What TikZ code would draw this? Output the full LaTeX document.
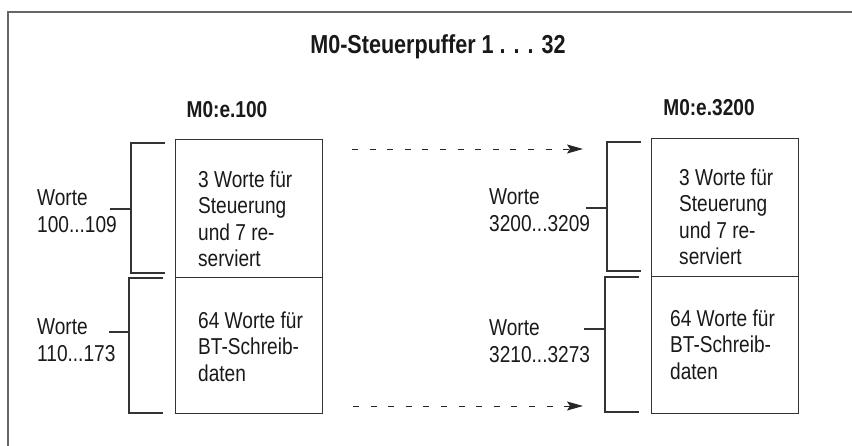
\documentclass[tikz,border=0pt]{standalone}
\usepackage{fontspec}
\setmainfont[FakeStretch=0.83]{Liberation Sans}
\usetikzlibrary{arrows.meta}
\begin{document}
\begin{tikzpicture}[x=1pt,y=-1pt,
  line/.style={draw=black!80, line width=1.2pt},
  frame/.style={draw=black!60, line width=2pt},
  txt/.style={inner sep=0pt, anchor=base west, align=left, text=black!90,
    font=\fontsize{23}{26.5}\selectfont},
  head/.style={inner sep=0pt, anchor=base, text=black!90,
    font=\fontsize{23}{27}\selectfont\bfseries},
  ttl/.style={inner sep=0pt, anchor=base, text=black!90,
    font=\fontsize{26}{30}\selectfont\bfseries},
  memcell/.style={draw=black!80, line width=1.2pt, rectangle, inner sep=0pt, anchor=north west},
  flow/.style={draw=black!85, line width=1pt, dash pattern=on 6pt off 11.6pt,
    -{Stealth[length=16pt,width=9pt,inset=3pt]}}]
\useasboundingbox (0,0) rectangle (852,445);
% frame
\draw[frame] (8,450) -- (8,12) -- (860,12);
% titles
\node[ttl] (title) at (438,53) {M0-Steuerpuffer 1 . . . 32};
\node[head] (hA) at (227,117) {M0:e.100};
\node[head] (hB) at (709,115) {M0:e.3200};
% memory cells
\node[memcell, minimum width=147pt, minimum height=138pt] (a1) at (175,139) {};
\node[memcell, minimum width=147pt, minimum height=136pt] (a2) at (175,277) {};
\node[memcell, minimum width=147pt, minimum height=138pt] (b1) at (651,138) {};
\node[memcell, minimum width=147pt, minimum height=137pt] (b2) at (651,276) {};
% cell texts (anchored at the baseline of the last line)
\node[txt] (ta1) at (198,266.5) {3 Worte für\\Steuerung\\und 7 re-\\serviert};
\node[txt] (ta2) at (198,381) {64 Worte für\\BT-Schreib-\\daten};
\node[txt] (tb1) at (679,264.5) {3 Worte für\\Steuerung\\und 7 re-\\serviert};
\node[txt] (tb2) at (670,379) {64 Worte für\\BT-Schreib-\\daten};
% brackets left
\draw[line] (165,143) -- (131,143) -- (131,273) -- (165,273);
\draw[line] (110,209) -- (131,209);
\draw[line] (163,278) -- (129,278) -- (129,413) -- (163,413);
\draw[line] (109,332) -- (129,332);
% brackets right
\draw[line] (641,142) -- (607,142) -- (607,271) -- (641,271);
\draw[line] (586,208) -- (607,208);
\draw[line] (639,277) -- (605,277) -- (605,412) -- (639,412);
\draw[line] (584,329) -- (605,329);
% labels
\node[txt] (la1) at (37,232) {Worte\\100...109};
\node[txt] (la2) at (37,361) {Worte\\110...173};
\node[txt] (lb1) at (489,231) {Worte\\3200...3209};
\node[txt] (lb2) at (489,362) {Worte\\3210...3273};
% arrows
\coordinate (s1) at (352,149);
\coordinate (e1) at (583,149);
\coordinate (s2) at (353,406);
\coordinate (e2) at (583,406);
\draw[flow] (s1) -- (e1);
\draw[flow] (s2) -- (e2);
\end{tikzpicture}
\end{document}
